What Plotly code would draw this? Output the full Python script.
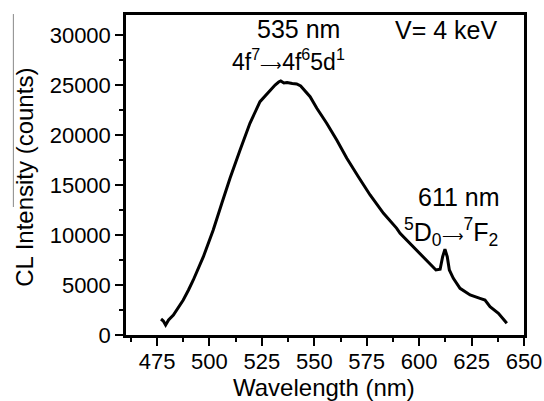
import plotly.graph_objects as go

# Data
wavelength = [476.9, 478.0, 479.1, 480.5, 482.8, 485.5, 487.5, 490.0, 492.3, 497.1, 501.8,
              505.9, 509.8, 514.6, 519.3, 524.1, 526.5, 528.1, 531.3, 533.0, 534.0,
              535.5, 537.0, 539.5, 541.6, 543.5, 545.6, 548.0, 551.2, 555.9, 560.7,
              565.5, 571.0, 576.6, 583.0, 589.3, 590.9, 597.3, 603.6, 608.0, 610.0,
              611.2, 612.3, 613.4, 614.4, 616.3, 619.5, 624.3, 629.0, 631.4, 633.8,
              637.8, 641.8]
intensity = [1600, 1400, 1000, 1500, 2000, 2800, 3500, 4500, 5500, 7830, 10500,
             13170, 15670, 18500, 21170, 23330, 23900, 24330, 25000, 25300, 25400,
             25200, 25250, 25150, 25100, 24900, 24400, 23830, 22670, 21170, 19500,
             17670, 15830, 14000, 12170, 10670, 10170, 8830, 7500, 6500, 6570,
             7830, 8570, 7830, 6500, 5670, 4670, 4000, 3670, 3500, 2830,
             2170, 1170]

x_ticks = [475, 500, 525, 550, 575, 600, 625, 650]
y_ticks = [0, 5000, 10000, 15000, 20000, 25000, 30000]

FONT = "Liberation Sans, Arial, sans-serif"

fig = go.Figure()
fig.add_trace(go.Scatter(x=wavelength, y=intensity, mode="lines",
                         line=dict(color="black", width=3), showlegend=False,
                         hoverinfo="skip"))

axis_common = dict(
    showline=True, linecolor="black", linewidth=2.5, mirror=True,
    ticks="outside", ticklen=8, tickwidth=2, tickcolor="black",
    showgrid=False, zeroline=False, automargin=False,
    tickfont=dict(family=FONT, size=22, color="black"),
)

fig.update_xaxes(range=[460.2, 650], tickvals=x_ticks,
                 ticktext=[str(v) for v in x_ticks],
                 minor=dict(ticks="outside", ticklen=4, tickwidth=2,
                            tickcolor="black", dtick=12.5, tick0=462.5),
                 ticklabelstandoff=-3,
                 **axis_common)
fig.update_yaxes(range=[0, 32000], tickvals=y_ticks,
                 ticktext=[str(v) for v in y_ticks],
                 minor=dict(ticks="outside", ticklen=4, tickwidth=2,
                            tickcolor="black", dtick=2500),
                 **axis_common)

# axis titles
fig.add_annotation(xref="paper", yref="paper", x=0.4975, y=-0.164,
                   text="Wavelength (nm)", showarrow=False,
                   xanchor="center", yanchor="middle",
                   font=dict(family=FONT, size=24, color="black"))
fig.add_annotation(xref="paper", yref="paper", x=-0.254, y=0.494,
                   text="CL Intensity (counts)", showarrow=False, textangle=-90,
                   xanchor="center", yanchor="middle",
                   font=dict(family=FONT, size=24, color="black"))

ann_font = dict(family=FONT, size=25, color="black")
ann_font2 = dict(family=FONT, size=23, color="black")
arrow = "<span style='font-size:15px'>\u27f6</span>"
annotations = [
    dict(x=542.5, y=30600, text="535 nm", font=ann_font),
    dict(x=537.7, y=27500, text="4f<sup>7</sup>" + arrow + "4f<sup>6</sup>5d<sup>1</sup>", font=ann_font2),
    dict(x=613, y=30500, text="V= 4 keV", font=ann_font),
    dict(x=619, y=13850, text="611 nm", font=ann_font),
    dict(x=615, y=10300, text="<sup>5</sup>D<sub>0</sub>" + arrow + "<sup>7</sup>F<sub>2</sub>", font=ann_font),
]
for a in annotations:
    fig.add_annotation(xref="x", yref="y", showarrow=False,
                       xanchor="center", yanchor="middle", **a)

# thin grey vertical line at the left edge (artifact in the original figure)
fig.add_shape(type="line", xref="paper", yref="paper", x0=-0.283, x1=-0.283,
              y0=0.4, y1=1.003, line=dict(color="#888888", width=1))

fig.update_layout(
    width=544, height=401,
    margin=dict(l=126, r=20, t=15, b=66),
    paper_bgcolor="white", plot_bgcolor="white",
    font=dict(family=FONT, color="black"),
)

fig.write_html("out.html")
